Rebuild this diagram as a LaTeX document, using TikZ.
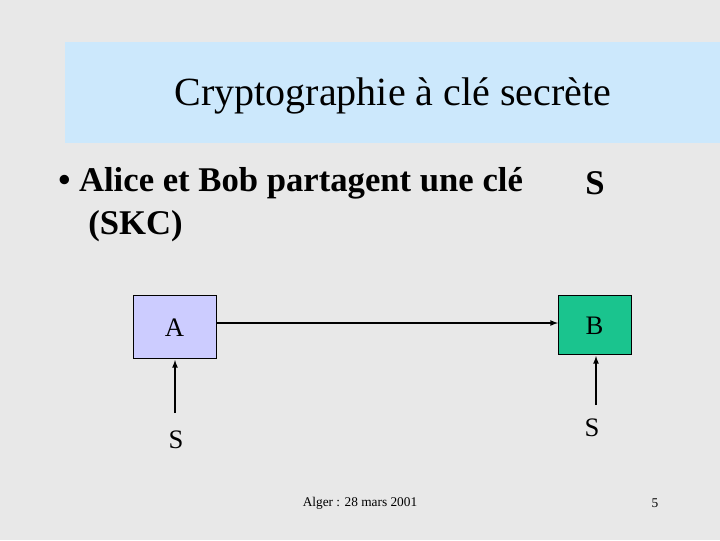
\documentclass[tikz,border=0pt]{standalone}
\usepackage{fontspec}
\setmainfont{Liberation Serif}
\definecolor{bg}{RGB}{232,232,232}
\definecolor{titlebg}{RGB}{204,232,252}
\definecolor{boxa}{RGB}{204,204,255}
\definecolor{boxb}{RGB}{26,196,142}
\begin{document}
\begin{tikzpicture}[x=0.75pt,y=-0.75pt,
  arr/.style={-latex,line width=1pt}]
\useasboundingbox (0,0) rectangle (720,540);
\fill[bg] (0,0) rectangle (720,540);
\fill[titlebg] (65,42) rectangle (720,143);
\node (title) at (393,96) {\fontsize{30}{36}\selectfont Cryptographie à clé secrète};
\node[anchor=west,inner sep=0pt] (bul) at (58,183) {\fontsize{26}{31}\selectfont\bfseries • Alice et Bob partagent une clé};
\node (s0) at (595,183) {\fontsize{26}{31}\selectfont\bfseries S};
\node[anchor=west,inner sep=0pt] (skc) at (88,226) {\fontsize{26}{31}\selectfont\bfseries (SKC)};
\draw[fill=boxa] (133,295) rectangle (216,358);
\node (A) at (174.5,328) {\fontsize{20}{24}\selectfont A};
\coordinate (Ae) at (216,323);
\draw[fill=boxb] (558,295) rectangle (631,354);
\node (B) at (594.5,326) {\fontsize{20}{24}\selectfont B};
\coordinate (Bw) at (558,323);
\draw[arr] (Ae) -- (Bw);
\node (S1) at (176,440) {\fontsize{20}{24}\selectfont S};
\node (S2) at (592,428) {\fontsize{20}{24}\selectfont S};
\coordinate (a1) at (175,413); \coordinate (a2) at (175,360);
\coordinate (b1) at (596,405); \coordinate (b2) at (596,356);
\draw[arr] (a1) -- (a2);
\draw[arr] (b1) -- (b2);
\node (foot) at (360,503) {\fontsize{10}{12}\selectfont Alger : 28 mars 2001};
\node (num) at (655,503) {\fontsize{10}{12}\selectfont 5};
\end{tikzpicture}
\end{document}
